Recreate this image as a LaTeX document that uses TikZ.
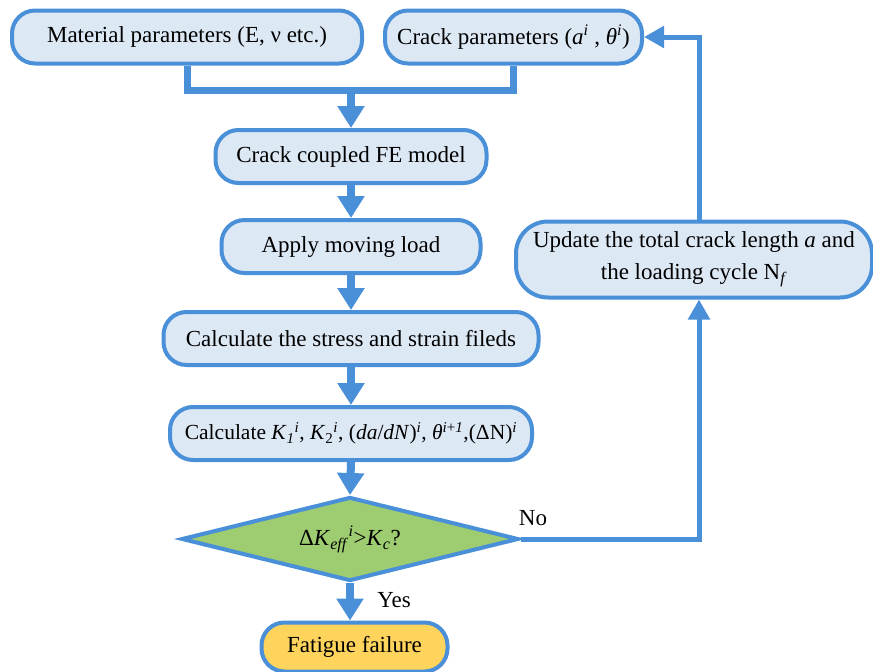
\documentclass[tikz,border=0pt]{standalone}
\usepackage{fontspec}
\usepackage{amsmath}
\setmainfont{Liberation Serif}
\usetikzlibrary{arrows.meta,shapes.geometric}
\definecolor{lb}{RGB}{74,144,217}
\definecolor{boxfill}{RGB}{221,232,245}
\definecolor{dgreen}{RGB}{158,204,112}
\definecolor{fyellow}{RGB}{255,212,92}
\begin{document}
\begin{tikzpicture}[x=1pt,y=-1pt,
  box/.style={draw=lb, line width=4pt, fill=boxfill, rounded corners=23pt, inner sep=0pt, font=\fontsize{23}{32}\selectfont},
  conn/.style={draw=lb, line width=7pt},
  arr/.style={draw=lb, line width=8pt, -{Triangle[width=26pt,length=22pt]}},
  loop/.style={draw=lb, line width=5pt, -{Triangle[width=21pt,length=20pt]}},
  lbl/.style={font=\fontsize{23}{26}\selectfont, inner sep=0pt}]
\fill[white] (0,0) rectangle (873,672);
\useasboundingbox (0,0) rectangle (873,672);

\node[box, minimum width=350pt, minimum height=53pt] (mat) at (187,37) {Material parameters (E, ν etc.)};
\node[box, minimum width=257pt, minimum height=53pt] (crack) at (513.5,37) {Crack parameters (\textit{a}\textsuperscript{\textit{i}} , \textit{θ}\textsuperscript{\textit{i}})};
\node[box, minimum width=271pt, minimum height=53pt] (fe) at (351,156.5) {Crack coupled FE model};
\node[box, minimum width=259pt, minimum height=53pt] (load) at (351,246.5) {Apply moving load};
\node[box, minimum width=375pt, minimum height=53pt] (stress) at (351,338.5) {Calculate the stress and strain fileds};
\node[box, minimum width=362pt, minimum height=53pt, font=\fontsize{21.5}{26}\selectfont] (kcalc) at (351,433.5) {Calculate \textit{K}\textsubscript{\textit{1}}\textsuperscript{\textit{i}}, \textit{K}\textsubscript{2}\textsuperscript{\textit{i}}, (\textit{da}/\textit{dN})\textsuperscript{\textit{i}}, \textit{θ}\textsuperscript{\textit{i}+\textit{1}},(ΔN)\textsuperscript{\textit{i}}};
\node[draw=lb, line width=4pt, fill=dgreen, diamond, aspect=4, minimum width=337pt, minimum height=84pt, inner sep=0pt, font=\fontsize{23}{26}\selectfont] (dec) at (350,539) {Δ\textit{K}\textsubscript{\textit{eff}}\textsuperscript{\textit{i}}>\textit{K}\textsubscript{\textit{c}}?};
\node[box, fill=fyellow, minimum width=186pt, minimum height=49pt] (fail) at (354.5,647) {Fatigue failure};
\node[box, minimum width=356pt, minimum height=76pt, rounded corners=32pt, align=center] (upd) at (694,259.5) {Update the total crack length \textit{a} and\\the loading cycle N\textsubscript{\textit{f}}};

\coordinate (j) at (351,90);
\coordinate (c1) at (699,539);
\draw[conn] (mat.south) -- (mat.south |- j) -- (crack.south |- j) -- (crack.south);
\draw[arr] (j) -- (fe.north);
\draw[arr] (fe.south) -- (load.north);
\draw[arr] (load.south) -- (stress.north);
\draw[arr] (stress.south) -- (kcalc.north);
\draw[arr] (kcalc.south) -- (dec.north);
\draw[arr] (dec.south) -- (dec.south |- fail.north);
\draw[loop] (dec.east) -- (c1) -- (c1 |- upd.south);
\draw[loop] (c1 |- upd.north) -- (c1 |- crack.east) -- (crack.east);

\node[lbl] (yes) at (394,600) {Yes};
\node[lbl] (no) at (533,518) {No};
\end{tikzpicture}
\end{document}
